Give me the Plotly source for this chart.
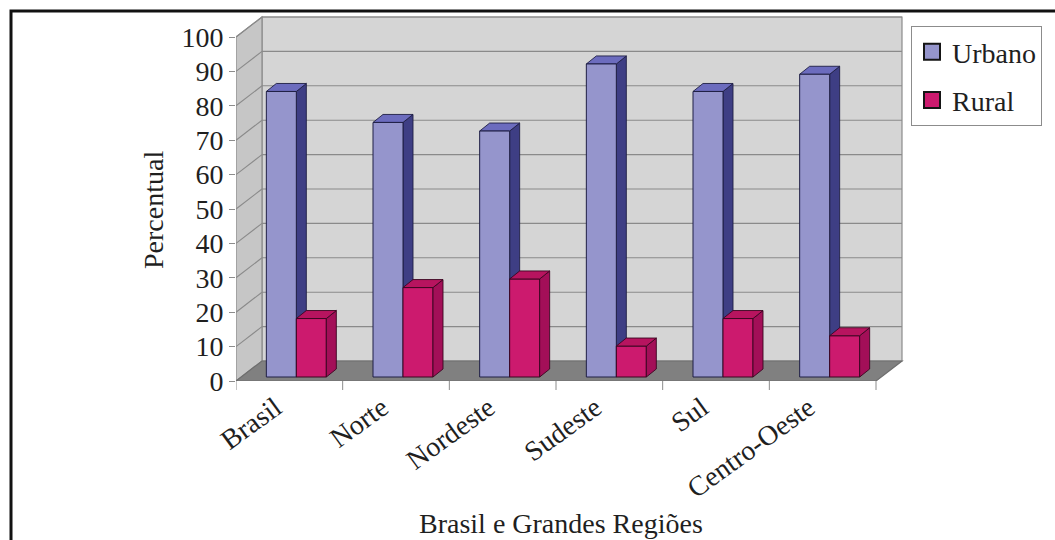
import plotly.graph_objects as go

# Distribuição percentual da população por situação do domicílio
regioes = ["Brasil", "Norte", "Nordeste", "Sudeste", "Sul", "Centro-Oeste"]
urbano = [83, 74, 71.5, 91, 83, 88]
rural = [17, 26, 28.5, 9, 17, 12]
y_ticks = [0, 10, 20, 30, 40, 50, 60, 70, 80, 90, 100]

FONT = "Liberation Serif"
TXT = "#1f1f1f"
W, H = 1055, 540

# plot area in pixels and scale (px per unit)
L, R, T, B = 236, 905, 15, 381
SX = 640 / 6          # px per region
SY = 3.44             # px per percentage point
XL, XR = -0.5, 5.5    # front floor edge, in region units
x_range = [XL, XL + (R - L) / SX]
y_range = [0, (B - T) / SY]

# oblique depth of the walls and of each column
DX, DY = 26 / SX, 20 / SY
BDX, BDY = 10 / SX, 8 / SY
BASE = 4 / SY          # columns stand slightly behind the front edge
BAR_W = 30 / SX
OFF_URB, OFF_RUR = -8 / SX, 22 / SX

COL = {
    "Urbano": dict(front="#9595CC", side="#3E3E84", top="#6C6CBE", edge="#1e1e44"),
    "Rural": dict(front="#CC1A6E", side="#A30F58", top="#B7145F", edge="#3a0620"),
}


def px_x(px):
    return (px - L) / (R - L)


def px_y(py):
    return (B - py) / (B - T)


def poly(pts):
    return "M " + " L ".join(f"{x:.5f},{y:.5f}" for x, y in pts) + " Z"


shapes = []


def add_poly(pts, fill, line, width=1.0, layer="below"):
    shapes.append(dict(type="path", path=poly(pts), xref="x", yref="y",
                       fillcolor=fill, line=dict(color=line, width=width),
                       layer=layer))


def add_line(x0, y0, x1, y1, color, width=1.0, layer="below"):
    shapes.append(dict(type="line", x0=x0, y0=y0, x1=x1, y1=y1, xref="x",
                       yref="y", line=dict(color=color, width=width),
                       layer=layer))


# walls and floor
add_poly([(XL + DX, DY), (XR + DX, DY), (XR + DX, 100 + DY), (XL + DX, 100 + DY)],
         "#D5D5D5", "#8c8c8c", 1.2)
add_poly([(XL, 0), (XL, 100), (XL + DX, 100 + DY), (XL + DX, DY)],
         "#C6C6C6", "#8c8c8c", 1.2)
for v in y_ticks[1:]:
    add_line(XL + DX, v + DY, XR + DX, v + DY, "#8a8a8a", 1.1)
    add_line(XL, v, XL + DX, v + DY, "#8a8a8a", 1.1)
add_poly([(XL, 0), (XR, 0), (XR + DX, DY), (XL + DX, DY)],
         "#808080", "#6e6e6e", 1.2)

# tick marks on the region boundaries
for k in range(len(regioes) + 1):
    shapes.append(dict(type="line", xref="x", yref="paper", x0=XL + k, x1=XL + k,
                       y0=0, y1=px_y(390), line=dict(color="#8c8c8c", width=1)))


def column_faces(xc, v, c, layer):
    x0, x1 = xc - BAR_W / 2, xc + BAR_W / 2
    yb, yt = BASE, BASE + v
    add_poly([(x1, yb), (x1 + BDX, yb + BDY), (x1 + BDX, yt + BDY), (x1, yt)],
             c["side"], c["edge"], 0.9, layer)
    add_poly([(x0, yt), (x0 + BDX, yt + BDY), (x1 + BDX, yt + BDY), (x1, yt)],
             c["top"], c["edge"], 0.9, layer)


x_urb = [i + OFF_URB for i in range(len(regioes))]
x_rur = [i + OFF_RUR for i in range(len(regioes))]

for xc, v in zip(x_urb, urbano):
    column_faces(xc, v, COL["Urbano"], "below")
for xc, v in zip(x_rur, rural):
    column_faces(xc, v, COL["Rural"], "above")

# outer frame
shapes.append(dict(type="rect", xref="paper", yref="paper",
                   x0=px_x(11), x1=px_x(1062), y0=px_y(11), y1=px_y(548),
                   line=dict(color="#111111", width=3), layer="above"))

fig = go.Figure()
for name, xs, vals in [("Urbano", x_urb, urbano), ("Rural", x_rur, rural)]:
    c = COL[name]
    fig.add_trace(go.Bar(x=xs, y=vals, base=BASE, width=BAR_W, name=name,
                         marker=dict(color=c["front"], line=dict(color=c["edge"], width=1)),
                         showlegend=False, hoverinfo="skip"))
for name, grp in [("Urbano", "u"), ("Rural", "r")]:
    c = COL[name]
    fig.add_trace(go.Scatter(x=[None], y=[None], mode="markers", name=name,
                             legendgroup=grp,
                             marker=dict(symbol="square", size=18, color=c["front"],
                                         line=dict(color="#151515", width=2))))

fig.update_layout(
    width=W, height=H,
    margin=dict(l=L, r=W - R, t=T, b=H - B),
    paper_bgcolor="white", plot_bgcolor="white",
    barmode="overlay",
    font=dict(family=FONT, size=28, color=TXT),
    shapes=shapes,
    showlegend=True,
    legend=dict(x=px_x(911), y=px_y(26), xanchor="left", yanchor="top",
                bgcolor="white", bordercolor="#8c8c8c", borderwidth=1,
                font=dict(family=FONT, size=28, color=TXT),
                tracegroupgap=9, itemwidth=30),
    xaxis=dict(range=x_range, tickmode="array", tickvals=list(range(len(regioes))),
               ticktext=regioes, tickangle=-36, ticks="", showgrid=False,
               zeroline=False, showline=False, ticklabelshift=-14,
               ticklabelstandoff=4,
               tickfont=dict(family=FONT, size=28, color=TXT)),
    yaxis=dict(range=y_range, tickmode="array", tickvals=y_ticks, ticks="outside",
               ticklen=6, tickcolor="#8c8c8c", showgrid=False, zeroline=False,
               showline=False, tickfont=dict(family=FONT, size=28, color=TXT)),
    annotations=[
        dict(text="Percentual", xref="paper", yref="paper", x=px_x(153), y=px_y(210),
             textangle=-90, showarrow=False, xanchor="center", yanchor="middle",
             font=dict(family=FONT, size=28, color=TXT)),
        dict(text="Brasil e Grandes Regiões", xref="paper", yref="paper",
             x=px_x(561), y=px_y(523), showarrow=False, xanchor="center",
             yanchor="middle", font=dict(family=FONT, size=28, color=TXT)),
    ],
)

fig.write_html("out.html")
